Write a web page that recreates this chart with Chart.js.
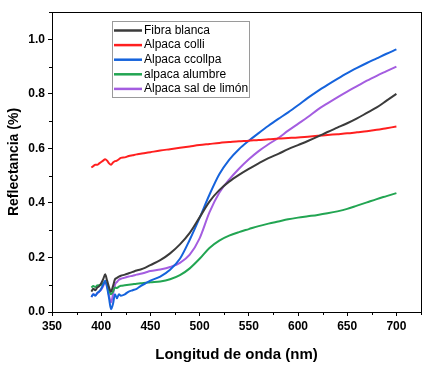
<!DOCTYPE html>
<html>
<head>
<meta charset="utf-8">
<script src="https://cdn.jsdelivr.net/npm/chart.js@4.4.1/dist/chart.umd.min.js"></script>
<style>
  html, body { margin: 0; padding: 0; background: #fff; }
  #wrap { width: 435px; height: 368px; }
</style>
</head>
<body>
<div id="wrap"><canvas id="chart" width="435" height="368"></canvas></div>
<script>
// wavelengths (nm) shared by every series
const wavelengths = [390, 392, 394, 396, 398, 400, 402, 404, 406, 408, 410, 412, 414, 416, 418, 420,
    424, 428, 432, 436, 440, 445, 450, 460, 470, 480, 490, 500, 510, 520, 530, 540, 550, 560, 570,
    580, 590, 600, 610, 620, 630, 640, 650, 660, 670, 680, 690, 700];

const seriesNames = ['Fibra blanca', 'Alpaca colli', 'Alpaca ccollpa', 'alpaca alumbre', 'Alpaca sal de limón'];
const seriesColors = ['#3b3b3b', '#ff1f1f', '#1563dc', '#22a552', '#a45de0'];

const fibraBlanca = [0.075, 0.085, 0.08, 0.09, 0.095, 0.105, 0.12, 0.138, 0.115, 0.09, 0.075, 0.095, 0.12, 0.125, 0.13, 0.133,
    0.137, 0.142, 0.147, 0.152, 0.156, 0.163, 0.172, 0.19, 0.215, 0.248, 0.29, 0.347, 0.405, 0.447, 0.478, 0.503, 0.525, 0.545, 0.564,
    0.58, 0.597, 0.612, 0.627, 0.643, 0.66, 0.676, 0.692, 0.71, 0.73, 0.75, 0.775, 0.80];

const alpacaColli = [0.53, 0.535, 0.54, 0.54, 0.545, 0.55, 0.555, 0.56, 0.555, 0.545, 0.54, 0.548, 0.553, 0.555, 0.56, 0.565,
    0.567, 0.572, 0.575, 0.578, 0.58, 0.583, 0.586, 0.592, 0.597, 0.602, 0.607, 0.612, 0.616, 0.62, 0.623, 0.626, 0.628, 0.631, 0.633,
    0.636, 0.638, 0.64, 0.643, 0.646, 0.649, 0.652, 0.655, 0.659, 0.663, 0.668, 0.674, 0.68];

const alpacaCcollpa = [0.055, 0.065, 0.06, 0.07, 0.075, 0.085, 0.10, 0.115, 0.09, 0.05, 0.01, 0.03, 0.065, 0.05, 0.065, 0.06,
    0.065, 0.075, 0.08, 0.085, 0.095, 0.105, 0.115, 0.13, 0.155, 0.195, 0.265, 0.345, 0.43, 0.505, 0.558, 0.597, 0.628, 0.656, 0.683,
    0.708, 0.732, 0.758, 0.785, 0.81, 0.833, 0.855, 0.876, 0.895, 0.913, 0.93, 0.947, 0.963];

const alpacaAlumbre = [0.09, 0.095, 0.092, 0.097, 0.098, 0.10, 0.105, 0.11, 0.1, 0.08, 0.065, 0.075, 0.09, 0.088, 0.093, 0.096,
    0.098, 0.10, 0.102, 0.104, 0.105, 0.107, 0.109, 0.112, 0.12, 0.135, 0.16, 0.195, 0.235, 0.262, 0.28, 0.293, 0.304, 0.315, 0.324,
    0.332, 0.34, 0.346, 0.351, 0.356, 0.362, 0.369, 0.378, 0.39, 0.402, 0.414, 0.425, 0.436];

const alpacaSalLimon = [0.055, 0.065, 0.062, 0.068, 0.075, 0.082, 0.095, 0.11, 0.095, 0.06, 0.035, 0.065, 0.1, 0.11, 0.118, 0.122,
    0.126, 0.13, 0.133, 0.137, 0.14, 0.145, 0.15, 0.156, 0.165, 0.18, 0.21, 0.27, 0.365, 0.437, 0.485, 0.525, 0.56, 0.59, 0.615,
    0.638, 0.665, 0.69, 0.715, 0.742, 0.765, 0.787, 0.808, 0.828, 0.848, 0.866, 0.883, 0.90];

const xTicks = [350, 400, 450, 500, 550, 600, 650, 700];
const yTicks = [0.0, 0.2, 0.4, 0.6, 0.8, 1.0];
const xMinor = [375, 425, 475, 525, 575, 625, 675, 725];
const yMinor = [0.1, 0.3, 0.5, 0.7, 0.9, 1.1];

const FONT = "'Liberation Sans', Arial, sans-serif";
const allSeries = [fibraBlanca, alpacaColli, alpacaCcollpa, alpacaAlumbre, alpacaSalLimon];

//Frame, minor ticks and the boxed legend
const framePlugin = {
    id: 'frame',
    afterDraw(chart) {
        const ctx = chart.ctx;
        const a = chart.chartArea;
        const xs = chart.scales.x, ys = chart.scales.y;
        ctx.save();
        ctx.strokeStyle = '#000';
        ctx.lineWidth = 1;
        ctx.strokeRect(a.left + 0.5, a.top + 0.5, a.right - a.left, a.bottom - a.top);
        ctx.beginPath();
        xMinor.forEach(v => {
            const px = Math.round(xs.getPixelForValue(v)) + 0.5;
            ctx.moveTo(px, a.bottom);
            ctx.lineTo(px, a.bottom + 3);
        });
        yMinor.forEach(v => {
            const py = Math.round(ys.getPixelForValue(v)) + 0.5;
            ctx.moveTo(a.left, py);
            ctx.lineTo(a.left - 3, py);
        });
        ctx.stroke();

        // legend
        const lx = 112, ly = 21, lw = 137, lh = 76;
        ctx.fillStyle = '#fff';
        ctx.fillRect(lx, ly, lw, lh);
        ctx.strokeStyle = '#9a9a9a';
        ctx.strokeRect(lx + 0.5, ly + 0.5, lw, lh);
        ctx.font = '12px ' + FONT;
        ctx.textBaseline = 'middle';
        chart.data.datasets.forEach((ds, i) => {
            const y = ly + 9.5 + i * 14.6;
            ctx.strokeStyle = ds.borderColor;
            ctx.lineWidth = 2.5;
            ctx.beginPath();
            ctx.moveTo(lx + 2, y);
            ctx.lineTo(lx + 30, y);
            ctx.stroke();
            ctx.fillStyle = '#000';
            ctx.fillText(ds.label, lx + 32, y);
        });
        ctx.restore();
    }
};

const datasets = seriesNames.map((name, i) => ({
    label: name,
    data: wavelengths.map((w, j) => ({ x: w, y: allSeries[i][j] })),
    borderColor: seriesColors[i],
    backgroundColor: seriesColors[i],
    borderWidth: 2,
    pointRadius: 0,
    cubicInterpolationMode: 'monotone',
    fill: false
}));

const chart = new Chart(document.getElementById('chart'), {
    type: 'line',
    data: { datasets },
    options: {
        responsive: false,
        animation: false,
        layout: { padding: { left: 2, right: 14, top: 12, bottom: 0 } },
        plugins: {
            legend: { display: false },
            tooltip: { enabled: false }
        },
        scales: {
            x: {
                type: 'linear',
                min: 350,
                max: 725,
                afterBuildTicks: s => { s.ticks = xTicks.map(v => ({ value: v })); },
                afterFit: s => { s.height = 56; },
                grid: { drawOnChartArea: false, drawTicks: true, tickLength: 4, color: '#000', tickColor: '#000' },
                border: { display: true, color: '#000' },
                ticks: {
                    padding: 3,
                    maxRotation: 0,
                    color: '#000',
                    font: { family: FONT, size: 12, weight: 'bold' },
                    callback: v => String(v)
                },
                title: {
                    display: true,
                    text: 'Longitud de onda (nm)',
                    color: '#000',
                    font: { family: FONT, size: 15, weight: 'bold' },
                    padding: { top: 7 }
                }
            },
            y: {
                min: 0,
                max: 1.1,
                afterBuildTicks: s => { s.ticks = yTicks.map(v => ({ value: v })); },
                afterFit: s => { s.width = 50; },
                grid: { drawOnChartArea: false, drawTicks: true, tickLength: 4, color: '#000', tickColor: '#000' },
                border: { display: true, color: '#000' },
                ticks: {
                    padding: 3,
                    color: '#000',
                    font: { family: FONT, size: 12, weight: 'bold' },
                    callback: v => v.toFixed(1)
                },
                title: {
                    display: true,
                    text: 'Reflectancia (%)',
                    color: '#000',
                    font: { family: FONT, size: 14, weight: 'bold' },
                    padding: { bottom: 2 }
                }
            }
        }
    },
    plugins: [framePlugin]
});
</script>
</body>
</html>
